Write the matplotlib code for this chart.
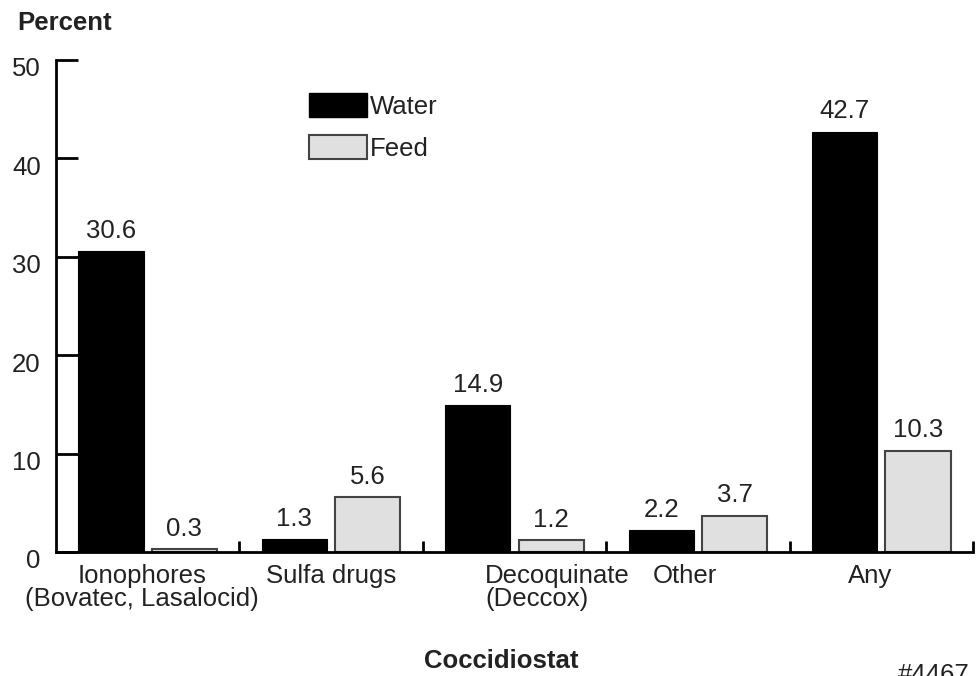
import matplotlib
matplotlib.use("Agg")
import matplotlib.pyplot as plt
import numpy as np
from matplotlib.transforms import ScaledTranslation, blended_transform_factory
from matplotlib.patches import Patch

plt.rcParams['font.family'] = ['Liberation Sans', 'DejaVu Sans']

categories = ["Ionophores\n(Bovatec, Lasalocid)", "Sulfa drugs", "Decoquinate\n(Deccox)", "Other", "Any"]
water = [30.6, 1.3, 14.9, 2.2, 42.7]
feed = [0.3, 5.6, 1.2, 3.7, 10.3]
yticks = [0, 10, 20, 30, 40, 50]
series_names = ["Water", "Feed"]

# label placement tweaks (style)
label_x = [0.47, 1.5, 2.34, 3.43, 4.44]
label_ha = ["center", "center", "left", "center", "center"]

txt = "#222222"
fs = 18.5

fig = plt.figure(figsize=(9.77, 6.76), dpi=100)
ax = fig.add_axes([56/977, 1-552/676, 917/977, 492/676])

centers = np.arange(len(categories)) + 0.5
w = 0.355
ax.bar(centers - 0.2, water, width=w, color="black", edgecolor="black", linewidth=0.8)
ax.bar(centers + 0.2, feed, width=w, color="#e0e0e0", edgecolor="#444444", linewidth=1.5)

for x, v in zip(centers - 0.2, water):
    ax.annotate(f"{v}", (x, v), xytext=(0, 6), textcoords="offset points",
                ha="center", va="bottom", fontsize=fs, color=txt)
for x, v in zip(centers + 0.2, feed):
    ax.annotate(f"{v}", (x, v), xytext=(0, 6), textcoords="offset points",
                ha="center", va="bottom", fontsize=fs, color=txt)

ax.set_xlim(0, 5)
ax.set_ylim(0, 50)
for s in ["top", "right"]:
    ax.spines[s].set_visible(False)
ax.spines["left"].set_linewidth(2)
ax.spines["bottom"].set_linewidth(2)

ax.set_yticks(yticks)
ax.set_yticklabels([str(t) for t in yticks], fontsize=fs, color=txt)
ax.tick_params(axis="y", direction="in", length=16, width=2, pad=11)
off = ScaledTranslation(0, -0.07, fig.dpi_scale_trans)
for lab in ax.get_yticklabels():
    lab.set_transform(lab.get_transform() + off)

ax.set_xticks([1, 2, 3, 4, 5])
ax.set_xticklabels([])
ax.tick_params(axis="x", direction="in", length=8, width=2)

trans = blended_transform_factory(ax.transData, ax.transAxes)
for x, lab, ha in zip(label_x, categories, label_ha):
    ax.text(x, -0.025, lab, transform=trans, ha=ha, va="top", fontsize=fs,
            color=txt, linespacing=0.92, multialignment=ha)

handles = [Patch(facecolor="black", edgecolor="black"),
           Patch(facecolor="#e0e0e0", edgecolor="#444444", linewidth=1.5)]
ax.legend(handles, series_names, loc="upper left", bbox_to_anchor=(0.276, 0.932),
          frameon=False, fontsize=fs, handlelength=2.25, handleheight=1.05,
          handletextpad=0.12, labelspacing=0.62, borderpad=0, borderaxespad=0,
          labelcolor=txt)

fig.text(17/977, 1-23/676, "Percent", fontsize=fs, fontweight="bold", color=txt,
         ha="left", va="center")
fig.text(501/977, 1-661/676, "Coccidiostat", fontsize=fs, fontweight="bold", color=txt,
         ha="center", va="center")
fig.text(898/977, 1-663/676, "#4467", fontsize=fs, color=txt, ha="left", va="top")

fig.savefig("out.png", dpi=100)
